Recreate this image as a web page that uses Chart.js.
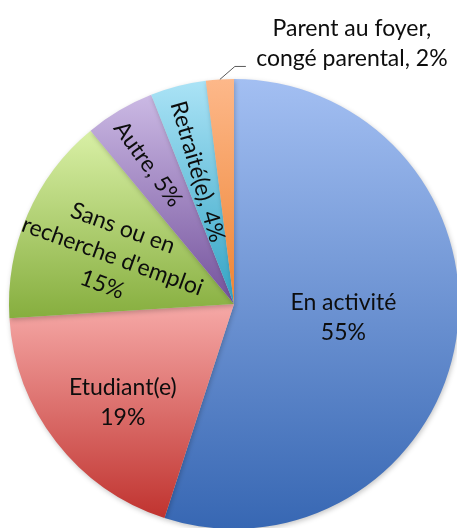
<!DOCTYPE html>
<html lang="fr">
<head>
  <meta charset="UTF-8">
  <title>Situation des répondants</title>
  <script src="https://cdn.jsdelivr.net/npm/chart.js"></script>
  <style>
    body {
      margin: 0;
      padding: 0;
      background: #ffffff;
      overflow: hidden;
    }
    #chart {
      position: absolute;
      left: 0;
      top: 0;
    }
  </style>
</head>
<body>
  <canvas id="chart" width="470" height="540"></canvas>

  <script>
    const categories = ['En activité', 'Etudiant(e)', "Sans ou en recherche d'emploi", 'Autre', 'Retraité(e)', 'Parent au foyer, congé parental'];
    const percentages = [55, 19, 15, 5, 4, 2];

    // gradient per slice, light at top -> dark at bottom
    const topColors = ['#a3bff2', '#f6a9a7', '#d9f0a6', '#cbb9e4', '#abe3f6', '#fdb88a'];
    const bottomColors = ['#3767b3', '#c0332f', '#86ae3e', '#74529c', '#32a3c4', '#ee8433'];

    const FONT = '23px Lato, "Open Sans", sans-serif';
    const LINE_H = 30;

    // label layout (polar offset from the slice middle)
    const labelLayout = [
      { lines: i => [categories[i], percentages[i] + '%'], r: 0.49, dAng: -2 },
      { lines: i => [categories[i], percentages[i] + '%'], r: 0.66, dAng: -3.7 },
      { lines: i => ['Sans ou en', "recherche d'emploi", percentages[i] + '%'], r: 0.58, dAng: -2, rot: 20 },
      { lines: i => [categories[i] + ', ' + percentages[i] + '%'], r: 0.73, dAng: -1, rot: 54 },
      { lines: i => [categories[i] + ', ' + percentages[i] + '%'], r: 0.61, dAng: -1, rot: 74 },
      { lines: i => ['Parent au foyer,', 'congé parental, ' + percentages[i] + '%'], outside: true }
    ];

    function sliceGradient(context) {
      const chart = context.chart;
      const area = chart.chartArea;
      if (!area) return topColors[context.dataIndex];
      const i = context.dataIndex;
      const cx = (area.left + area.right) / 2;
      const cy = (area.top + area.bottom) / 2;
      const r = Math.min(area.right - area.left, area.bottom - area.top) / 2;
      const total = percentages.reduce((a, b) => a + b, 0);
      let before = 0;
      for (let k = 0; k < i; k++) before += percentages[k];
      const a0 = -Math.PI / 2 + before / total * Math.PI * 2;
      const a1 = a0 + percentages[i] / total * Math.PI * 2;
      const ys = [cy, cy + r * Math.sin(a0), cy + r * Math.sin(a1)];
      for (let t = -2; t <= 2; t++) {
        const a = Math.PI / 2 + t * Math.PI;
        if (a > a0 && a < a1) ys.push(cy + r * Math.sin(a));
      }
      const y0 = Math.min(...ys), y1 = Math.max(...ys);
      const g = chart.ctx.createLinearGradient(0, y0, 0, y1);
      g.addColorStop(0, topColors[i]);
      g.addColorStop(1, bottomColors[i]);
      return g;
    }

    const pieShadow = {
      id: 'pieShadow',
      beforeDatasetsDraw(chart) {
        const ctx = chart.ctx;
        ctx.save();
        ctx.shadowColor = 'rgba(0,0,0,0.22)';
        ctx.shadowBlur = 5;
        ctx.shadowOffsetX = 1;
        ctx.shadowOffsetY = 2;
      },
      afterDatasetsDraw(chart) {
        chart.ctx.restore();
      }
    };

    const sliceLabels = {
      id: 'sliceLabels',
      afterDraw(chart) {
        const ctx = chart.ctx;
        const arcs = chart.getDatasetMeta(0).data;
        ctx.save();
        ctx.font = FONT;
        ctx.fillStyle = '#0d0d0d';
        ctx.textAlign = 'center';
        ctx.textBaseline = 'middle';
        arcs.forEach((arc, i) => {
          const p = arc.getProps(['x', 'y', 'startAngle', 'endAngle', 'outerRadius'], true);
          const mid = (p.startAngle + p.endAngle) / 2;
          const cfg = labelLayout[i];
          const lines = cfg.lines(i);
          if (cfg.outside) {
            const ex = p.x + Math.cos(mid) * p.outerRadius;
            const ey = p.y + Math.sin(mid) * p.outerRadius;
            ctx.strokeStyle = '#595959';
            ctx.lineWidth = 1;
            ctx.beginPath();
            ctx.moveTo(ex, ey);
            ctx.lineTo(ex + 15, ey - 13);
            ctx.lineTo(ex + 26, ey - 13);
            ctx.stroke();
            const tx = ex + 132;
            const ty = ey - 36;
            lines.forEach((l, k) => ctx.fillText(l, tx, ty + (k - (lines.length - 1) / 2) * LINE_H));
            return;
          }
          const ang = mid + cfg.dAng * Math.PI / 180;
          const tx = p.x + Math.cos(ang) * p.outerRadius * cfg.r;
          const ty = p.y + Math.sin(ang) * p.outerRadius * cfg.r;
          ctx.save();
          ctx.translate(tx, ty);
          if (cfg.rot) ctx.rotate(cfg.rot * Math.PI / 180);
          lines.forEach((l, k) => ctx.fillText(l, 0, (k - (lines.length - 1) / 2) * LINE_H));
          ctx.restore();
        });
        ctx.restore();
      }
    };

    new Chart(document.getElementById('chart'), {
      type: 'pie',
      data: {
        labels: categories,
        datasets: [{
          data: percentages,
          backgroundColor: sliceGradient,
          borderWidth: 0
        }]
      },
      options: {
        responsive: false,
        devicePixelRatio: 1,
        animation: false,
        rotation: 0,
        layout: { padding: { left: 9, top: 79, right: 11, bottom: 11 } },
        plugins: {
          legend: { display: false },
          tooltip: { enabled: false }
        }
      },
      plugins: [pieShadow, sliceLabels]
    });
  </script>
</body>
</html>
